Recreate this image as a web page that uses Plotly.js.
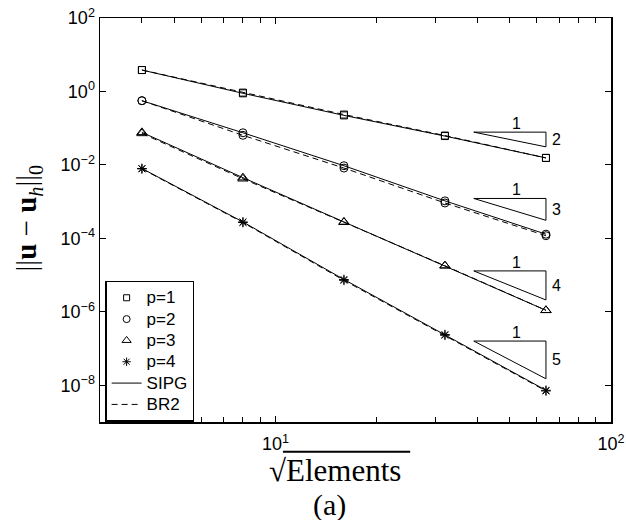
<!DOCTYPE html>
<html>
<head>
<meta charset="utf-8">
<script src="https://cdn.plot.ly/plotly-3.0.1.min.js"></script>
<style>html,body{margin:0;padding:0;background:#fff;}</style>
</head>
<body>
<div id="chart" style="width:626px;height:520px;"></div>
<script>
// sqrt(Elements)
const xVals = [4, 8, 16, 32, 64];

// SIPG errors
const sipgP1 = [3.83, 0.89, 0.223, 0.061, 0.0155];
const sipgP2 = [0.56, 0.075, 0.0095, 0.00105, 1.3e-4];
const sipgP3 = [0.077, 0.0045, 2.8e-4, 1.8e-5, 1.1e-6];
const sipgP4 = [0.0080, 2.8e-4, 7.6e-6, 2.4e-7, 7.3e-9];

// BR2 errors
const br2P1 = [3.83, 0.93, 0.235, 0.063, 0.0155];
const br2P2 = [0.56, 0.064, 0.0082, 0.00092, 1.18e-4];
const br2P3 = [0.072, 0.0042, 2.75e-4, 1.8e-5, 1.1e-6];
const br2P4 = [0.0078, 2.7e-4, 7.2e-6, 2.3e-7, 7.0e-9];

const seriesNames = ['p=1', 'p=2', 'p=3', 'p=4'];
const methodNames = ['SIPG', 'BR2'];
const seriesSymbols = ['square-open', 'circle-open', 'triangle-up-open', 'asterisk-open'];
const seriesSizes = [7, 8, 9, 8];

// slope triangles
const triX = [39, 64];
const triTop = [0.078, 1.22e-3, 1.3e-5, 1.6e-7];
const triBottom = [0.031, 3.1e-4, 2.1e-6, 1.5e-8];
const triSlope = ['2', '3', '4', '5'];

// ticks and tick labels
const xTickVals = [10, 100];
const xTickText = ['10<sup>1</sup>', '10<sup>2</sup>'];
const xMinorVals = [4, 5, 6, 7, 8, 9, 20, 30, 40, 50, 60, 70, 80, 90];
const yTickVals = [1e-8, 1e-6, 1e-4, 1e-2, 1e0, 1e2];
const yTickText = ['10<sup>−8</sup>', '10<sup>−6</sup>', '10<sup>−4</sup>', '10<sup>−2</sup>', '10<sup>0</sup>', '10<sup>2</sup>'];

const sipg = [sipgP1, sipgP2, sipgP3, sipgP4];
const br2 = [br2P1, br2P2, br2P3, br2P4];

const traces = [];
for (let i = 0; i < 4; i++) {
  traces.push({
    x: xVals, y: br2[i], mode: 'lines+markers', showlegend: false,
    line: {color: 'black', width: 1, dash: '6px,4px'},
    marker: {symbol: seriesSymbols[i], size: seriesSizes[i], color: 'black', line: {color: 'black', width: 1}}
  });
  traces.push({
    x: xVals, y: sipg[i], mode: 'lines+markers', showlegend: false,
    line: {color: 'black', width: 1},
    marker: {symbol: seriesSymbols[i], size: seriesSizes[i], color: 'black', line: {color: 'black', width: 1}}
  });
}
// slope triangles
const annotations = [];
const labelFont = {family: 'Liberation Sans, Arial, sans-serif', size: 16, color: 'black'};
for (let k = 0; k < triTop.length; k++) {
  traces.push({
    x: [triX[0], triX[1], triX[1], triX[0]],
    y: [triTop[k], triTop[k], triBottom[k], triTop[k]],
    mode: 'lines', showlegend: false, hoverinfo: 'skip',
    line: {color: 'black', width: 1}
  });
  annotations.push({
    x: (Math.log10(triX[0]) + Math.log10(triX[1])) / 2 + 0.02, y: Math.log10(triTop[k]),
    xref: 'x', yref: 'y', text: '1', showarrow: false, yanchor: 'bottom', yshift: -2,
    font: labelFont
  });
  annotations.push({
    x: Math.log10(triX[1]), y: (Math.log10(triTop[k]) + Math.log10(triBottom[k])) / 2,
    xref: 'x', yref: 'y', text: triSlope[k], showarrow: false, xanchor: 'left', xshift: 4,
    font: labelFont
  });
}
// legend-only entries
for (let i = 0; i < 4; i++) {
  traces.push({
    x: [null], y: [null], mode: 'markers', name: '<span style="font-size:17px">' + seriesNames[i] + '</span>',
    marker: {symbol: seriesSymbols[i], size: seriesSizes[i] - 1, color: 'black', line: {color: 'black', width: 1}}
  });
}
traces.push({x: [null], y: [null], mode: 'lines', name: '<span style="font-size:17px">' + methodNames[0] + '</span>', line: {color: 'black', width: 1}});
traces.push({x: [null], y: [null], mode: 'lines', name: '<span style="font-size:17px">' + methodNames[1] + '</span>', line: {color: 'black', width: 1, dash: '6px,4px'}});

const serif = 'Liberation Serif, DejaVu Serif, serif';
annotations.push({
  xref: 'paper', yref: 'paper', x: 0.459, y: -0.12, yanchor: 'middle', showarrow: false,
  text: '√Elements',
  font: {family: serif, size: 31, color: 'black'}
});
annotations.push({
  xref: 'paper', yref: 'paper', x: 0.45, y: -0.205, yanchor: 'middle', showarrow: false,
  text: '(a)',
  font: {family: serif, size: 30, color: 'black'}
});
annotations.push({
  xref: 'paper', yref: 'paper', x: -0.14, y: 0.505, xanchor: 'center', showarrow: false, textangle: -90,
  text: '||<b>u</b> − <b>u</b><sub><i>h</i></sub>||<sub>0</sub>',
  font: {family: serif, size: 29, color: 'black'}
});

const axisFont = {family: 'Liberation Sans, Arial, sans-serif', size: 18, color: 'black'};
const layout = {
  width: 626, height: 520,
  margin: {l: 100, r: 15, t: 18, b: 98},
  paper_bgcolor: 'white', plot_bgcolor: 'white',
  showlegend: true,
  xaxis: {
    type: 'log', range: [Math.log10(3), 2],
    tickmode: 'array', tickvals: xTickVals, ticktext: xTickText,
    ticks: 'inside', ticklen: 6, tickcolor: 'black', tickwidth: 1, ticklabelstandoff: 5,
    minor: {tickmode: 'array', tickvals: xMinorVals, ticks: 'inside', ticklen: 5, tickcolor: 'black', tickwidth: 1, showgrid: false},
    showline: true, linecolor: 'black', linewidth: 1.5, mirror: 'allticks',
    showgrid: false, zeroline: false, tickfont: axisFont
  },
  yaxis: {
    type: 'log', range: [-9, 2],
    tickmode: 'array', tickvals: yTickVals, ticktext: yTickText,
    ticks: 'inside', ticklen: 6, tickcolor: 'black', tickwidth: 1,
    showline: true, linecolor: 'black', linewidth: 1.5, mirror: 'allticks',
    showgrid: false, zeroline: false, tickfont: axisFont
  },
  legend: {
    x: 0.01, y: 0.35, xanchor: 'left', yanchor: 'top',
    bgcolor: 'white', bordercolor: 'black', borderwidth: 1.5,
    font: {family: 'Liberation Sans, Arial, sans-serif', size: 14.1, color: 'black'},
    tracegroupgap: 0
  },
  shapes: [{
    type: 'line', xref: 'paper', yref: 'paper', x0: 0.358, x1: 0.607, y0: -0.0735, y1: -0.0735,
    line: {color: 'black', width: 2}
  }],
  annotations: annotations
};

Plotly.newPlot('chart', traces, layout, {staticPlot: true, displayModeBar: false});
</script>
</body>
</html>
